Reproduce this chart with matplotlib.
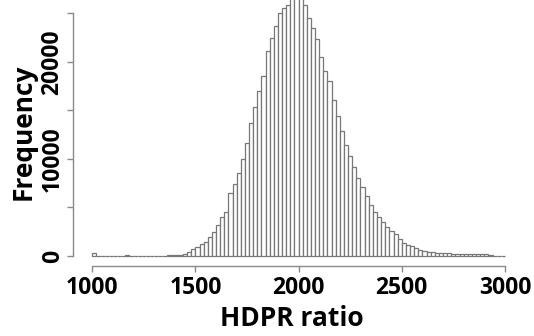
import numpy as np
import matplotlib
matplotlib.use("Agg")
import matplotlib.pyplot as plt

plt.rcParams['font.family'] = ['Open Sans', 'DejaVu Sans']

# histogram of HDPR ratio, bins of width 20 from 1000 to 3000
bin_start = 1000
bin_width = 20
counts = [
    300, 0, 0, 0, 0, 0, 0, 0, 60, 10,            # 1000-1180
    10, 20, 20, 30, 30, 40, 40, 50, 60, 80,      # 1200-1380
    120, 150, 200, 440, 690, 960, 1200, 1410, 1920, 2500,   # 1400-1580
    3190, 3980, 4560, 6450, 7400, 8520, 9960, 11610, 13670, 15320,  # 1600-1780
    17030, 18540, 21150, 22420, 23690, 25060, 25510, 25850, 26900, 27600,  # 1800-1980
    27300, 25850, 24480, 23450, 22350, 20530, 19090, 18060, 16070, 14420,  # 2000-2180
    12900, 11430, 10330, 9200, 8000, 7140, 6180, 5250, 4560, 4050,  # 2200-2380
    3470, 3020, 2600, 2270, 1770, 1350, 1170, 980, 800, 650,   # 2400-2580
    515, 450, 410, 340, 310, 275, 275, 240, 205, 170,          # 2600-2780
    170, 205, 240, 170, 205, 170, 60, 50, 50, 40,              # 2800-2980
]
x_ticks = [1000, 1500, 2000, 2500, 3000]
y_ticks = [0, 5000, 10000, 15000, 20000, 25000]
y_tick_labels = ['0', '', '10000', '', '20000', '']

edges = bin_start + bin_width * np.arange(len(counts))

fig = plt.figure(figsize=(5.34, 3.36), dpi=100)
ax = fig.add_axes([73/534, 70/336, 437/534, 266/336])

ax.bar(edges, counts, width=bin_width, align='edge', color='white',
       edgecolor='#777777', linewidth=0.9)

# pixel mapping
ax.set_xlim(906.4, 3024.7)
ax.set_ylim(-1030, 26370)

for s in ['top', 'right']:
    ax.spines[s].set_visible(False)
ax.spines['left'].set_bounds(0, 25000)
ax.spines['bottom'].set_bounds(1000, 3000)
for s in ['left', 'bottom']:
    ax.spines[s].set_color('#8a8a8a')
    ax.spines[s].set_linewidth(1.0)

ax.set_xticks(x_ticks)
ax.set_xticklabels([str(t) for t in x_ticks])
ax.set_yticks(y_ticks)
ax.set_yticklabels(y_tick_labels)
ax.tick_params(axis='both', direction='out', length=4, width=1.0,
               color='#8a8a8a', labelsize=16.5)
ax.tick_params(axis='x', pad=3)
ax.tick_params(axis='y', pad=2)
for lab in ax.get_xticklabels() + ax.get_yticklabels():
    lab.set_fontweight('bold')
for lab in ax.get_yticklabels():
    lab.set_rotation(90)
    lab.set_va('center')
    lab.set_ha('right')

fig.text(292/534, 1 - 318/336, 'HDPR ratio', ha='center', va='center',
         fontsize=19, fontweight='bold')
fig.text(23/534, 1 - 132/336, 'Frequency', ha='center', va='center',
         rotation=90, fontsize=19, fontweight='bold')

fig.savefig('out.png', dpi=100)
